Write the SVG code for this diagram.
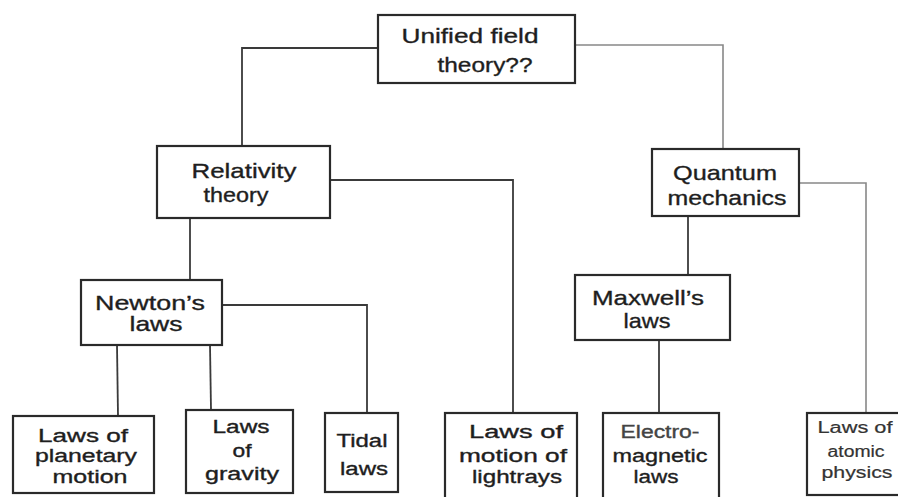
<svg xmlns="http://www.w3.org/2000/svg" width="898" height="497" viewBox="0 0 898 497">
<style>
.box{fill:#fff;stroke:#2a2a2a;stroke-width:2.2}
.ln{fill:none;stroke:#3a3a3a;stroke-width:1.8}
.lt{fill:none;stroke:#888;stroke-width:1.6}
text{font-family:"Liberation Sans",Arial,sans-serif;fill:#1e1e1e;stroke:#1e1e1e;stroke-width:0.35;text-anchor:middle}
.t1{font-size:21px}
.t2{font-size:18px}
.t3{font-size:16px;fill:#333;stroke:#333;stroke-width:0.2}
</style>
<rect width="898" height="497" fill="#fff"/>
<g id="connectors">
<polyline class="ln" points="378,48 242,48 242,146"/>
<polyline class="lt" points="575,45 723,45 723,149"/>
<polyline class="ln" points="330,180 513,180 513,413"/>
<line class="ln" x1="190" y1="218" x2="190" y2="280"/>
<polyline class="ln" points="222,305 367,305 367,413"/>
<line class="ln" x1="117" y1="345" x2="118" y2="416"/>
<line class="ln" x1="210" y1="345" x2="211" y2="410"/>
<polyline class="lt" points="799,183 866,183 866,413"/>
<line class="ln" x1="688" y1="216" x2="688" y2="275"/>
<line class="ln" x1="659" y1="340" x2="659" y2="413"/>
</g>
<g id="unified">
<rect class="box" x="378" y="15" width="197" height="68"/>
<text class="t1" x="470" y="43" textLength="137" lengthAdjust="spacingAndGlyphs">Unified field</text>
<text class="t1" x="485" y="72" textLength="95" lengthAdjust="spacingAndGlyphs">theory??</text>
</g>
<g id="relativity">
<rect class="box" x="157" y="146" width="173" height="72"/>
<text class="t1" x="244" y="178" textLength="105" lengthAdjust="spacingAndGlyphs">Relativity</text>
<text class="t1" x="236" y="202" textLength="65" lengthAdjust="spacingAndGlyphs">theory</text>
</g>
<g id="quantum">
<rect class="box" x="652" y="149" width="147" height="67"/>
<text class="t1" x="725" y="180" textLength="104" lengthAdjust="spacingAndGlyphs">Quantum</text>
<text class="t1" x="727" y="205" textLength="119" lengthAdjust="spacingAndGlyphs">mechanics</text>
</g>
<g id="newton">
<rect class="box" x="81" y="280" width="141" height="65"/>
<text class="t1" x="150" y="310" textLength="110" lengthAdjust="spacingAndGlyphs">Newton’s</text>
<text class="t1" x="156" y="331" textLength="53" lengthAdjust="spacingAndGlyphs">laws</text>
</g>
<g id="maxwell">
<rect class="box" x="575" y="275" width="155" height="65"/>
<text class="t1" x="648" y="305" textLength="112" lengthAdjust="spacingAndGlyphs">Maxwell’s</text>
<text class="t1" x="647" y="328" textLength="47" lengthAdjust="spacingAndGlyphs">laws</text>
</g>
<g id="planetary">
<rect class="box" x="13" y="416" width="141" height="77"/>
<text class="t2" x="83" y="442" textLength="90" lengthAdjust="spacingAndGlyphs">Laws of</text>
<text class="t2" x="86" y="462" textLength="102" lengthAdjust="spacingAndGlyphs">planetary</text>
<text class="t2" x="90" y="483" textLength="75" lengthAdjust="spacingAndGlyphs">motion</text>
</g>
<g id="gravity">
<rect class="box" x="186" y="410" width="107" height="83"/>
<text class="t2" x="241" y="433" textLength="57" lengthAdjust="spacingAndGlyphs">Laws</text>
<text class="t2" x="242" y="457" textLength="19" lengthAdjust="spacingAndGlyphs">of</text>
<text class="t2" x="242" y="480" textLength="74" lengthAdjust="spacingAndGlyphs">gravity</text>
</g>
<g id="tidal">
<rect class="box" x="325" y="413" width="73" height="79"/>
<text class="t2" x="362" y="447" textLength="51" lengthAdjust="spacingAndGlyphs">Tidal</text>
<text class="t2" x="364" y="475" textLength="48" lengthAdjust="spacingAndGlyphs">laws</text>
</g>
<g id="lightrays">
<rect class="box" x="445" y="413" width="132" height="90"/>
<text class="t2" x="516" y="438" textLength="94" lengthAdjust="spacingAndGlyphs">Laws of</text>
<text class="t2" x="513" y="462" textLength="108" lengthAdjust="spacingAndGlyphs">motion of</text>
<text class="t2" x="517" y="483" textLength="90" lengthAdjust="spacingAndGlyphs">lightrays</text>
</g>
<g id="electromagnetic">
<rect class="box" x="603" y="413" width="116" height="90"/>
<text class="t2" x="660" y="438" textLength="79" lengthAdjust="spacingAndGlyphs" style="fill:#444;stroke:#444">Electro-</text>
<text class="t2" x="660" y="462" textLength="95" lengthAdjust="spacingAndGlyphs">magnetic</text>
<text class="t2" x="656" y="483" textLength="45" lengthAdjust="spacingAndGlyphs">laws</text>
</g>
<g id="atomic">
<rect class="box" x="807" y="413" width="110" height="82"/>
<text class="t3" x="855" y="433" textLength="75" lengthAdjust="spacingAndGlyphs">Laws of</text>
<text class="t3" x="856" y="457" textLength="57" lengthAdjust="spacingAndGlyphs">atomic</text>
<text class="t3" x="857" y="478" textLength="71" lengthAdjust="spacingAndGlyphs">physics</text>
</g>
</svg>
